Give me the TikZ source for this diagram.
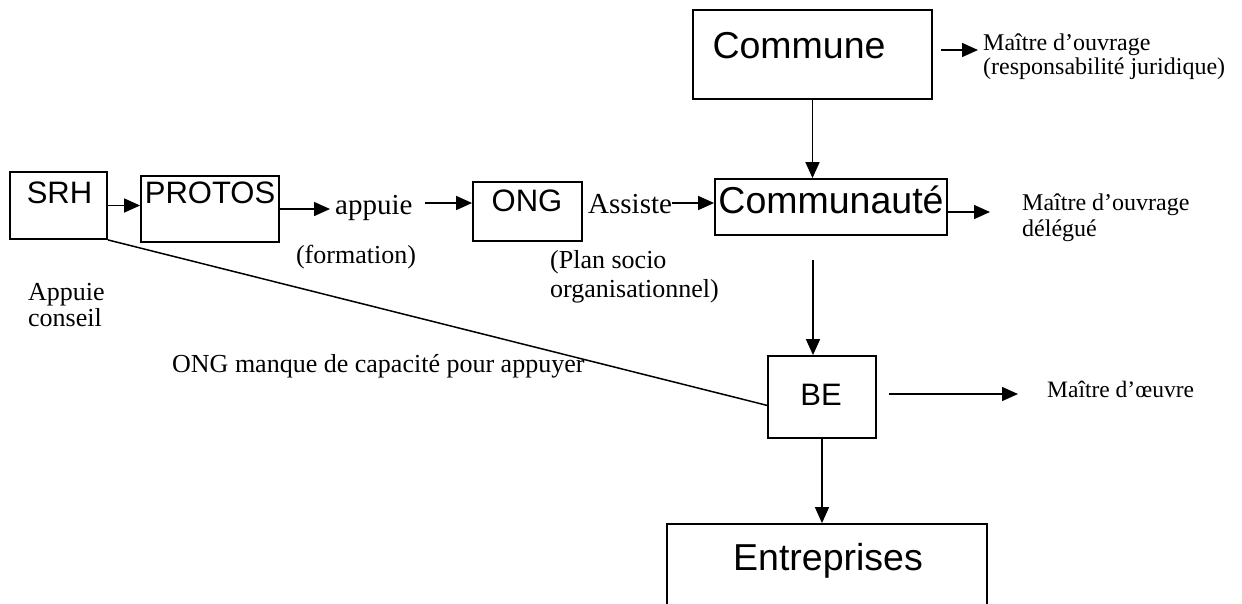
\documentclass[tikz,border=0pt]{standalone}
\usepackage{fontspec}
\setmainfont{Liberation Serif}
\newfontfamily\arialf{Liberation Sans}
\usetikzlibrary{arrows.meta,calc}
\tikzset{
  box/.style={draw, line width=1.8pt, inner sep=0pt},
  bigtxt/.style={font=\arialf\fontsize{37.5}{40}\selectfont, anchor=base, inner sep=0pt},
  smalltxt/.style={font=\arialf\fontsize{31}{34}\selectfont, anchor=base, inner sep=0pt},
  lbl/.style={font=\fontsize{26}{30}\selectfont, anchor=base west, inner sep=0pt},
  lblbig/.style={font=\fontsize{29}{33}\selectfont, anchor=base west, inner sep=0pt},
  lblside/.style={font=\fontsize{24}{28}\selectfont, anchor=base west, inner sep=0pt},
  arr/.style={line width=1.5pt, -{Triangle[length=16pt,width=14pt]}},
  plain/.style={line width=1.5pt}
}
\begin{document}
\begin{tikzpicture}[x=1pt,y=-1pt]
\useasboundingbox (0,0) rectangle (1242,603);
\clip (0,0) rectangle (1242,603);
% boxes
\node[box, minimum width=97pt, minimum height=67pt] (srh) at (58.5,205.5) {};
\node[box, minimum width=138pt, minimum height=66pt] (protos) at (210,209) {};
\node[box, minimum width=109pt, minimum height=59pt] (ong) at (527.5,211.5) {};
\node[box, minimum width=232pt, minimum height=56pt] (communaute) at (831,207) {};
\node[box, minimum width=239pt, minimum height=89pt] (commune) at (812.5,54.5) {};
\node[box, minimum width=108pt, minimum height=82pt] (be) at (822,397) {};
\node[box, minimum width=320pt, minimum height=96pt] (entreprises) at (827,572) {};
% box texts
\node[smalltxt] (srht) at (59.5,203) {SRH};
\node[smalltxt] (protost) at (210,203) {PROTOS};
\node[smalltxt] (ongt) at (527,211) {ONG};
\node[bigtxt] (communautet) at (831,213) {Communauté};
\node[bigtxt] (communet) at (799,58) {Commune};
\node[smalltxt] (bet) at (821,405) {BE};
\node[bigtxt] (entreprisest) at (828,570) {Entreprises};
% labels
\node[lblbig] (appuie) at (335,214) {appuie};
\node[lbl, anchor=base] (formation) at (356,263) {(formation)};
\node[lblbig] (assiste) at (588,213) {Assiste};
\node[lbl] (plan1) at (550,268) {(Plan socio};
\node[lbl] (plan2) at (550,297) {organisationnel)};
\node[lbl] (app1) at (28,300) {Appuie};
\node[lbl] (app2) at (28,326) {conseil};
\node[lbl] (manque) at (172,372) {ONG manque de capacité pour appuyer};
\node[lblside] (mo1) at (983,50) {Maître d’ouvrage};
\node[lblside] (mo1b) at (983,74) {(responsabilité juridique)};
\node[lblside] (mo2) at (1022,210) {Maître d’ouvrage};
\node[lblside] (mo2b) at (1022,236) {délégué};
\node[lblside, font=\fontsize{23.5}{27}\selectfont] (moe) at (1047,397) {Maître d’œuvre};
% connectors
\draw[arr] (srh.east) -- (srh.east -| protos.west);
\draw[arr, shorten >=5pt] (protos.east) -- (protos.east -| appuie.west);
\draw[arr] ($(appuie.base east)+(12,-11)$) coordinate (a1) -- (a1 -| ong.west);
\draw[arr] ($(assiste.base east)+(0,-10)$) coordinate (a2) -- (a2 -| communaute.west);
\draw[arr] (commune.south) -- (commune.south |- communaute.north);
\draw[arr] ($(communaute.south)+(-18,24)$) coordinate (c1) -- (c1 |- be.north);
\draw[arr] (be.south) -- (be.south |- entreprises.north);
\draw[arr, shorten >=5pt] ($(commune.east)+(8,-4.5)$) coordinate (c2) -- (c2 -| mo1.west);
\draw[arr, shorten >=32pt] ($(communaute.east)+(0,5)$) coordinate (c3) -- (c3 -| mo2.west);
\draw[arr, shorten >=29pt] ($(be.east)+(12,-3)$) coordinate (c4) -- (c4 -| moe.west);
\draw[plain] (srh.south east) -- ($(be.south west)!0.4!(be.north west)$);
\end{tikzpicture}
\end{document}
